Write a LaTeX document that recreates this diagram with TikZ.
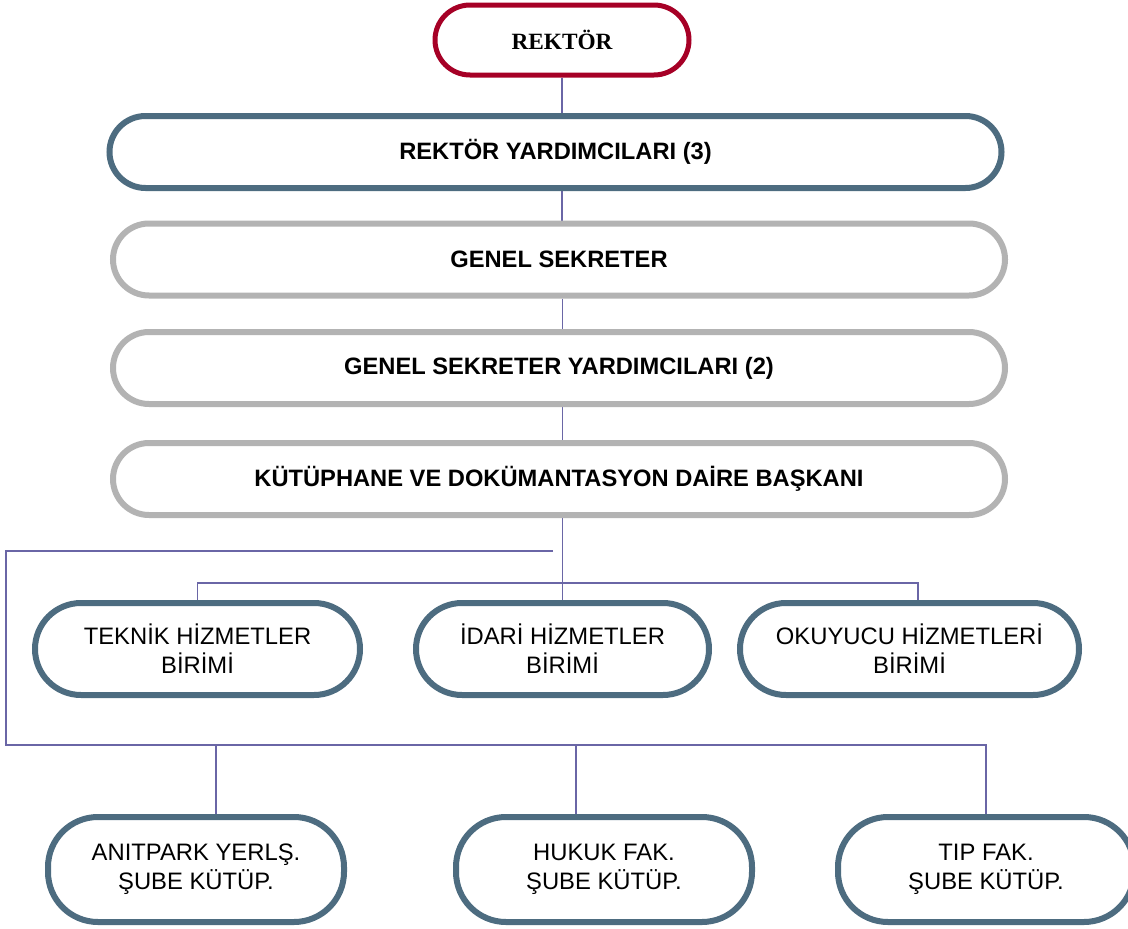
\documentclass[tikz,border=0pt]{standalone}
\usepackage{fontspec}
\setmainfont{Liberation Sans}
\newfontfamily\serifbold{Liberation Serif}
\usetikzlibrary{backgrounds}

\definecolor{rektorred}{HTML}{A60026}
\definecolor{slate}{HTML}{4D6C80}
\definecolor{softgray}{HTML}{B3B3B3}
\definecolor{linkline}{HTML}{6A66A6}

\begin{document}
\begin{tikzpicture}[x=1pt,y=-1pt,
	font=\fontsize{23.8}{29}\selectfont,
	box/.style={fill=white,line width=6pt,rectangle,inner sep=0pt,align=center,text=black},
	headbox/.style={box,draw=rektorred,line width=5pt,minimum width=254pt,minimum height=70pt,rounded corners=35pt,font=\fontsize{23.3}{28}\selectfont\serifbold\bfseries},
	wide/.style={box,minimum width=892pt,minimum height=72pt,rounded corners=36pt,font=\fontsize{23.7}{28}\selectfont\bfseries},
	slatewide/.style={wide,draw=slate},
	graywide/.style={wide,draw=softgray},
	unitbox/.style={box,draw=slate,minimum height=92pt,rounded corners=46pt},
	branchbox/.style={box,draw=slate,minimum width=296pt,minimum height=105pt,rounded corners=50pt},
	link/.style={draw=linkline,line width=1.5pt}]

	\useasboundingbox (0,0) rectangle (1128,929);
	\clip (0,0) rectangle (1128,929);

	% yonetim
	\node[headbox]		(rektor)	at (562,40)		{REKTÖR};
	\node[slatewide]	(ryard)		at (555.5,152)	{REKTÖR YARDIMCILARI (3)};
	\node[graywide]		(gsek)		at (559,259.5)	{GENEL SEKRETER};
	\node[graywide]		(gsy)		at (559,368)	{GENEL SEKRETER YARDIMCILARI (2)};
	\node[graywide]		(kdb)		at (559,479)	{KÜTÜPHANE VE DOKÜMANTASYON DAİRE BAŞKANI};

	% birimler
	\node[unitbox,minimum width=325pt]	(teknik)	at (197.5,649)	{TEKNİK HİZMETLER\\BİRİMİ};
	\node[unitbox,minimum width=293pt]	(idari)		at (562.5,649)	{İDARİ HİZMETLER\\BİRİMİ};
	\node[unitbox,minimum width=339pt]	(okuyucu)	at (909.5,649)	{OKUYUCU HİZMETLERİ\\BİRİMİ};

	% sube kutuphaneleri
	\node[branchbox]	(anitpark)	at (196,869.5)	{ANITPARK YERLŞ.\\ŞUBE KÜTÜP.};
	\node[branchbox]	(hukuk)		at (604,869.5)	{HUKUK FAK.\\ŞUBE KÜTÜP.};
	\node[branchbox]	(tip)		at (986,869.5)	{TIP FAK.\\ŞUBE KÜTÜP.};

	\coordinate (stub) at (553,551);
	\coordinate (bus) at (6,745);

	\begin{scope}[on background layer]
		\draw[link]	(rektor.south) -- (rektor.south |- ryard.north);
		\draw[link]	(ryard.south -| rektor.south) -- (gsek.north -| rektor.south);
		\draw[link]	(gsek.south -| idari.north) -- (gsy.north -| idari.north);
		\draw[link]	(gsy.south -| idari.north) -- (kdb.north -| idari.north);
		\draw[link]	(kdb.south -| idari.north) -- (idari.north);
		\draw[link]	(teknik.north) -- ++(0,-17) -| ([xshift=8.5pt]okuyucu.north);

		\draw[link]	(stub) -| (bus) -| (tip.north);
		\draw[link]	([xshift=20pt]anitpark.north) -- ([xshift=20pt]anitpark.north |- bus);
		\draw[link]	([xshift=-28pt]hukuk.north) -- ([xshift=-28pt]hukuk.north |- bus);
	\end{scope}

\end{tikzpicture}
\end{document}
